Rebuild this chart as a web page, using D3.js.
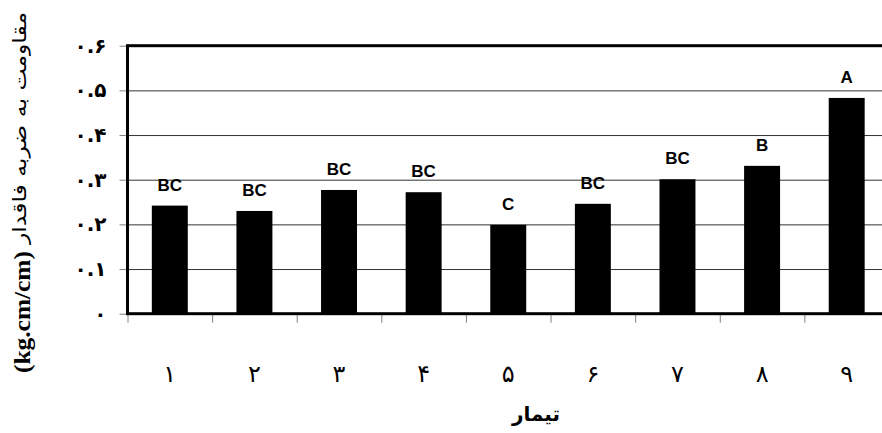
<!DOCTYPE html>
<html>
<head>
<meta charset="utf-8">
<script src="https://cdn.jsdelivr.net/npm/d3@7"></script>
<style>
  body { margin: 0; background: #fff; }
  svg { display: block; }
</style>
</head>
<body>
<svg id="chart"></svg>
<script>
// treatments (Persian digits) and impact strength values
const treatments = ['۱', '۲', '۳', '۴', '۵', '۶', '۷', '۸', '۹'];
const impactValues = [0.242, 0.230, 0.277, 0.272, 0.199, 0.246, 0.301, 0.331, 0.483];
const groupLetters = ['BC', 'BC', 'BC', 'BC', 'C', 'BC', 'BC', 'B', 'A'];
const yTickValues = [0, 0.1, 0.2, 0.3, 0.4, 0.5, 0.6];
const yTickLabels = ['۰', '۰.۱', '۰.۲', '۰.۳', '۰.۴', '۰.۵', '۰.۶'];

const width = 882, height = 433;
const margin = { top: 45.7, left: 127.5, bottom: 313.7, right: 889 };

const svg = d3.select('#chart')
  .attr('width', width)
  .attr('height', height);

const x = d3.scaleBand()
  .domain(treatments)
  .range([margin.left, margin.right])
  .padding(0);

const xEdges = d3.scaleLinear()
  .domain([0, treatments.length])
  .range([margin.left, margin.right]);

const y = d3.scaleLinear()
  .domain([0, 0.6])
  .range([margin.bottom, margin.top]);

const serif = "'Times New Roman', 'Liberation Serif', 'DejaVu Serif', serif";
const persian = "'DejaVu Sans', sans-serif";

// gridlines
svg.append('g')
  .attr('transform', `translate(${margin.left},0)`)
  .call(d3.axisLeft(y).tickValues(yTickValues.slice(1, -1)).tickSize(-(margin.right - margin.left)).tickFormat(''))
  .call(g => g.select('.domain').remove())
  .call(g => g.selectAll('line').attr('stroke', '#333').attr('stroke-width', 1));

// bars
const barW = x.bandwidth() * 0.425;
svg.append('g')
  .selectAll('rect')
  .data(impactValues)
  .join('rect')
  .attr('x', (d, i) => x(treatments[i]) + x.bandwidth() / 2 - barW / 2)
  .attr('y', d => y(d))
  .attr('width', barW)
  .attr('height', d => y(0) - y(d))
  .attr('fill', '#000');

// group letters
svg.append('g')
  .selectAll('text')
  .data(impactValues)
  .join('text')
  .attr('x', (d, i) => x(treatments[i]) + x.bandwidth() / 2)
  .attr('y', d => y(d) - 15)
  .attr('text-anchor', 'middle')
  .style('font-family', "'Liberation Sans', Arial, sans-serif")
  .style('font-weight', 'bold')
  .style('font-size', '17px')
  .text((d, i) => groupLetters[i]);

// left axis ticks + labels
svg.append('g')
  .attr('transform', `translate(${margin.left},0)`)
  .call(d3.axisLeft(y).tickValues(yTickValues).tickSize(8).tickPadding(13)
    .tickFormat((d, i) => yTickLabels[i]))
  .call(g => g.select('.domain').remove())
  .call(g => g.selectAll('line').attr('stroke', '#808080'))
  .call(g => g.selectAll('text')
    .style('font-family', persian)
    .style('font-weight', 'bold')
    .style('font-size', '20px')
    .attr('fill', '#000'));

// bottom ticks at category boundaries
svg.append('g')
  .attr('transform', `translate(0,${margin.bottom})`)
  .call(d3.axisBottom(xEdges).tickValues(d3.range(0, treatments.length + 1)).tickSize(9).tickFormat(''))
  .call(g => g.select('.domain').remove())
  .call(g => g.selectAll('line').attr('stroke', '#808080'));

// category labels
svg.append('g')
  .attr('transform', `translate(0,${margin.bottom})`)
  .call(d3.axisBottom(x).tickSize(0).tickPadding(51))
  .call(g => g.select('.domain').remove())
  .call(g => g.selectAll('text')
    .style('font-family', persian)
    .style('font-weight', 'normal')
    .style('font-size', '24px')
    .attr('fill', '#000'));

// frame
svg.append('rect')
  .attr('x', margin.left)
  .attr('y', margin.top)
  .attr('width', margin.right - margin.left)
  .attr('height', margin.bottom - margin.top)
  .attr('fill', 'none')
  .attr('stroke', '#000')
  .attr('stroke-width', 3);

// x title
svg.append('text')
  .attr('x', 536)
  .attr('y', 421)
  .attr('text-anchor', 'middle')
  .style('font-family', persian)
  .style('font-weight', 'bold')
  .style('font-size', '20px')
  .text('تیمار');

// y title (rotated)
const yTitle = svg.append('g')
  .attr('transform', 'translate(30,0) rotate(-90)');

yTitle.append('text')
  .attr('x', -373)
  .attr('y', 0)
  .attr('text-anchor', 'start')
  .attr('textLength', 122)
  .attr('lengthAdjust', 'spacingAndGlyphs')
  .style('font-family', serif)
  .style('font-weight', 'bold')
  .style('font-size', '23px')
  .text('(kg.cm/cm)');

yTitle.append('text')
  .attr('x', -244)
  .attr('y', -4)
  .attr('text-anchor', 'start')
  .attr('textLength', 232)
  .attr('lengthAdjust', 'spacingAndGlyphs')
  .style('font-family', persian)
  .style('font-weight', 'normal')
  .style('font-size', '19px')
  .text('مقاومت به ضربه فاقدار');
</script>
</body>
</html>
